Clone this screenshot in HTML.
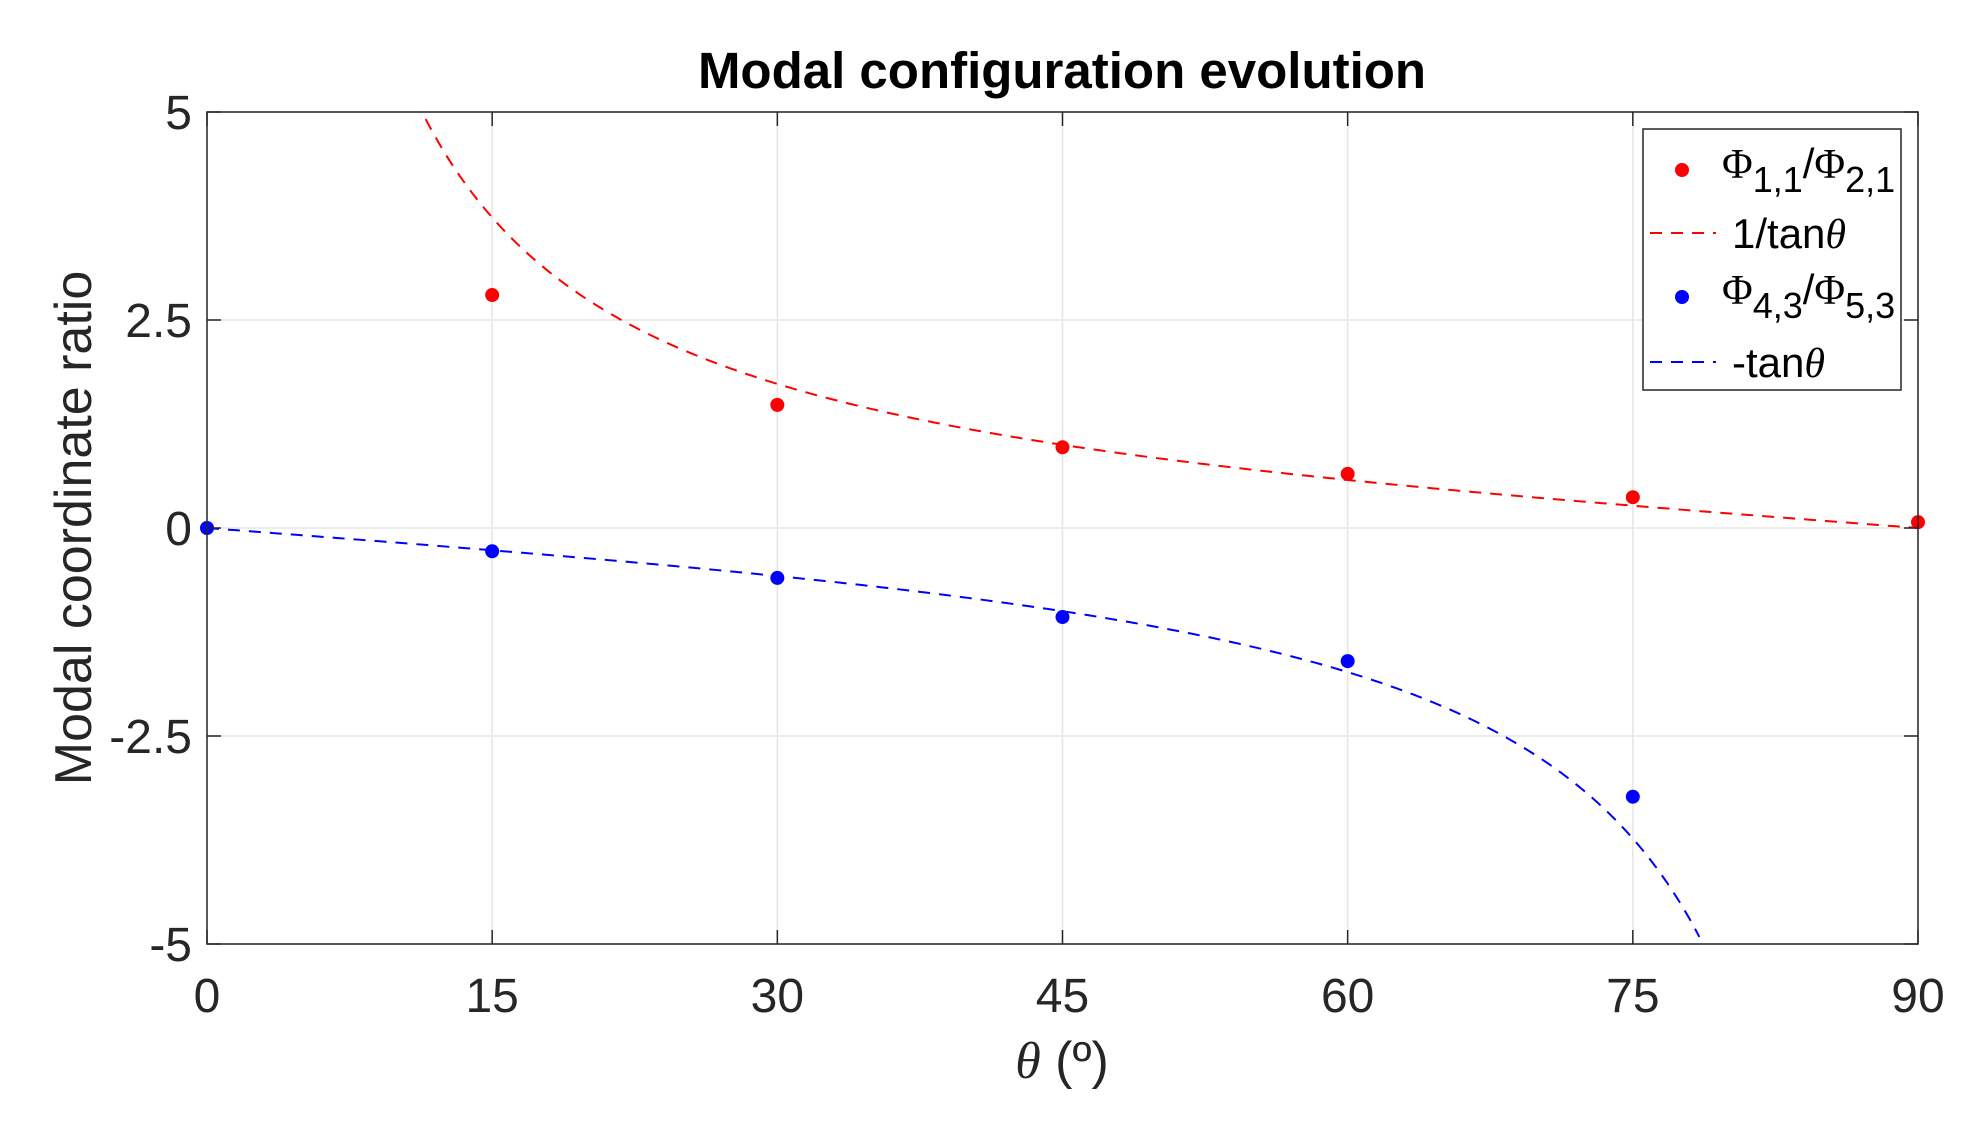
<!DOCTYPE html>
<html><head><meta charset="utf-8"><style>
html,body{margin:0;padding:0;background:#fff;}
svg{display:block;font-family:"Liberation Sans",Arial,sans-serif;}
</style></head><body>
<svg id="chart" width="1988" height="1128" viewBox="0 0 1988 1128" xmlns="http://www.w3.org/2000/svg">
<rect width="1988" height="1128" fill="#fff"/>
<g id="grid"></g>
<g id="curves"></g>
<g id="points"></g>
<rect x="207" y="112" width="1711" height="832" fill="none" stroke="#262626" stroke-width="1.5"/>
<g id="ticks"></g>
<text x="1062" y="88" text-anchor="middle" font-size="51" font-weight="bold" fill="#000">Modal configuration evolution</text>
<text transform="translate(91,528) rotate(-90)" text-anchor="middle" font-size="52" fill="#262626">Modal coordinate ratio</text>
<text x="1062" y="1078" text-anchor="middle" font-size="52" fill="#262626"><tspan font-family="Liberation Serif,serif" font-style="italic">θ</tspan> (º)</text>
<g>
<rect x="1643" y="129" width="258" height="261" fill="#fff" stroke="#262626" stroke-width="1.5"/>
<circle cx="1682" cy="170" r="7" fill="#ff0000"/>
<text x="1722" y="178" font-size="42" fill="#000"><tspan font-family="Liberation Serif,serif">Φ</tspan><tspan dy="14" font-size="36">1,1</tspan><tspan dy="-14">/</tspan><tspan font-family="Liberation Serif,serif">Φ</tspan><tspan dy="14" font-size="36">2,1</tspan></text>
<line x1="1650" y1="233" x2="1716" y2="233" stroke="#ff0000" stroke-width="2" stroke-dasharray="12,9"/>
<text x="1732" y="248" font-size="42" fill="#000">1/tan<tspan font-family="Liberation Serif,serif" font-style="italic">θ</tspan></text>
<circle cx="1682" cy="297" r="7" fill="#0000ff"/>
<text x="1722" y="304" font-size="42" fill="#000"><tspan font-family="Liberation Serif,serif">Φ</tspan><tspan dy="14" font-size="36">4,3</tspan><tspan dy="-14">/</tspan><tspan font-family="Liberation Serif,serif">Φ</tspan><tspan dy="14" font-size="36">5,3</tspan></text>
<line x1="1650" y1="362" x2="1716" y2="362" stroke="#0000ff" stroke-width="2" stroke-dasharray="12,9"/>
<text x="1732" y="377" font-size="42" fill="#000">-tan<tspan font-family="Liberation Serif,serif" font-style="italic">θ</tspan></text>
</g>
</svg>
<script>
const xTicks = [0, 15, 30, 45, 60, 75, 90];
const yTicks = [5, 2.5, 0, -2.5, -5];
const yTickLabels = ["5", "2.5", "0", "-2.5", "-5"];
const thetaPts = [15, 30, 45, 60, 75, 90];
const ratio11 = [2.8, 1.48, 0.97, 0.65, 0.37, 0.07];
const thetaPts2 = [0, 15, 30, 45, 60, 75];
const ratio43 = [0, -0.28, -0.6, -1.07, -1.6, -3.23];

const X0 = 207, X1 = 1918, Y0 = 112, Y1 = 944;
function xs(v){ return X0 + (v - 0) / 90 * (X1 - X0); }
function ys(v){ return Y0 + (5 - v) / 10 * (Y1 - Y0); }
const NS = "http://www.w3.org/2000/svg";
function mk(tag, attrs, parent){ const e = document.createElementNS(NS, tag); for (const k in attrs) e.setAttribute(k, attrs[k]); parent.appendChild(e); return e; }
const grid = document.getElementById('grid'), ticks = document.getElementById('ticks');
const curves = document.getElementById('curves'), points = document.getElementById('points');

xTicks.forEach((t, i) => {
  const x = xs(t);
  const g = mk('line', {x1:x, y1:Y0, x2:x, y2:Y1, stroke:'#e6e6e6', 'stroke-width':1.5}, grid);
  
  
  const tk = mk('line', {x1:x, y1:Y1, x2:x, y2:Y1-14, stroke:'#262626', 'stroke-width':1.5}, ticks);
  
  
  const tk2 = mk('line', {x1:x, y1:Y0, x2:x, y2:Y0+14, stroke:'#262626', 'stroke-width':1.5}, ticks);
  
  
  const lb = mk('text', {x:x, y:1012, 'text-anchor':'middle', 'font-size':48, fill:'#262626'}, ticks);
  lb.textContent = String(t);
  
  
});
yTicks.forEach((t, i) => {
  const y = ys(t);
  const g = mk('line', {x1:X0, y1:y, x2:X1, y2:y, stroke:'#e6e6e6', 'stroke-width':1.5}, grid);
  
  
  const tk = mk('line', {x1:X0, y1:y, x2:X0+14, y2:y, stroke:'#262626', 'stroke-width':1.5}, ticks);
  
  
  const tk2 = mk('line', {x1:X1, y1:y, x2:X1-14, y2:y, stroke:'#262626', 'stroke-width':1.5}, ticks);
  
  
  const lb = mk('text', {x:192, y:y+17, 'text-anchor':'end', 'font-size':48, fill:'#262626'}, ticks);
  lb.textContent = yTickLabels[i];
  
  
});

function curve(fn, color, name){
  let d = '';
  for (let a = 0.5; a <= 90; a += 0.25) {
    const v = fn(a * Math.PI / 180);
    if (v > 5 || v < -5 || !isFinite(v)) continue;
    d += (d ? 'L' : 'M') + xs(a).toFixed(2) + ',' + ys(v).toFixed(2);
  }
  const p = mk('path', {d:d, fill:'none', stroke:color, 'stroke-width':2, 'stroke-dasharray':'12,9'}, curves);
  
  
}
curve(t => 1/Math.tan(t), '#ff0000', 'cot-curve');
(function(){
  let d = 'M' + xs(0) + ',' + ys(0);
  for (let a = 0.25; a <= 90; a += 0.25) {
    const v = -Math.tan(a*Math.PI/180);
    if (v < -5) break;
    d += 'L' + xs(a).toFixed(2) + ',' + ys(v).toFixed(2);
  }
  const p = mk('path', {d:d, fill:'none', stroke:'#0000ff', 'stroke-width':2, 'stroke-dasharray':'12,9'}, curves);
  
  
})();

thetaPts.forEach((t, i) => {
  const c = mk('circle', {cx:xs(t), cy:ys(ratio11[i]), r:7, fill:'#ff0000'}, points);
  
  
});
thetaPts2.forEach((t, i) => {
  const c = mk('circle', {cx:xs(t), cy:ys(ratio43[i]), r:7, fill:'#0000ff'}, points);
  
  
});
</script>
</body></html>
